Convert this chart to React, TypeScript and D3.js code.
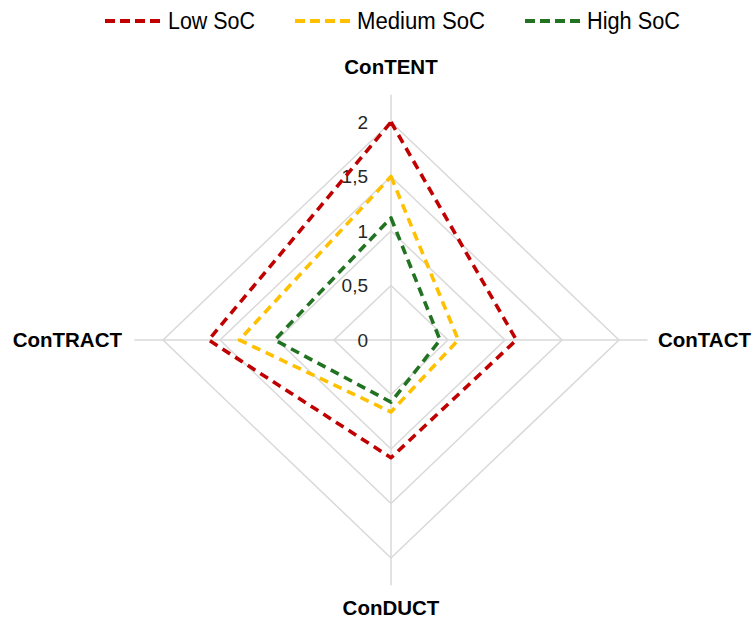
import React from "react";
import * as d3 from "d3";

const categories = ["ConTENT", "ConTACT", "ConDUCT", "ConTRACT"];
const seriesNames = ["Low SoC", "Medium SoC", "High SoC"];
const lowSoC = [2, 1.1, 1.08, 1.6];
const mediumSoC = [1.5, 0.59, 0.66, 1.33];
const highSoC = [1.12, 0.43, 0.57, 1.02];
const tickValues = [0, 0.5, 1, 1.5, 2];
const tickLabels = ["0", "0,5", "1", "1,5", "2"];
const colors = ["#C00000", "#FFC000", "#217321"];

const W = 756;
const H = 619;
const cx = 391;
const cy = 340;

export default function App() {
  const rx = d3.scaleLinear().domain([0, 2]).range([0, 228]);
  const ry = d3.scaleLinear().domain([0, 2]).range([0, 218]);
  const angle = (i: number) => (i * Math.PI) / 2 - Math.PI / 2;
  const pt = (i: number, v: number): [number, number] => [
    cx + Math.cos(angle(i)) * rx(v),
    cy + Math.sin(angle(i)) * ry(v),
  ];
  const line = d3
    .line<[number, number]>()
    .x((d) => d[0])
    .y((d) => d[1])
    .curve(d3.curveLinearClosed);

  const series = [lowSoC, mediumSoC, highSoC];
  const rings = tickValues.filter((t) => t > 0);

  const labelPos = [
    { x: cx, y: 67, anchor: "middle" },
    { x: 658, y: 340, anchor: "start" },
    { x: cx, y: 608, anchor: "middle" },
    { x: 122, y: 340, anchor: "end" },
  ];

  const legendItems = [
    { x1: 105, tx: 168, len: 87 },
    { x1: 295, tx: 357, len: 128 },
    { x1: 525, tx: 587, len: 93 },
  ];

  return (
    <svg
      width={W}
      height={H}
      style={{ position: "absolute", left: 0, top: 0, background: "#fff" }}
    >
      <rect width={W} height={H} fill="#fff" />
      {rings.map((t) => (
        <path
          key={t}
          d={line(categories.map((_, i) => pt(i, t))) || ""}
          fill="none"
          stroke="#d9d9d9"
          strokeWidth={1.5}
        />
      ))}
      {categories.map((c, i) => {
        const [x2, y2] = pt(i, 2.25);
        return (
          <line
            key={c}
            x1={cx}
            y1={cy}
            x2={x2}
            y2={y2}
            stroke="#d9d9d9"
            strokeWidth={1.5}
          />
        );
      })}
      {tickValues.map((t, k) => (
        <text
          key={t}
          x={368}
          y={cy - ry(t)}
          dy="0.35em"
          textAnchor="end"
          fontFamily="Liberation Sans, Arial, sans-serif"
          fontSize={19}
          fill="#262626"
        >
          {tickLabels[k]}
        </text>
      ))}
      {series.map((s, si) => (
        <path
          key={si}
          d={line(s.map((v, i) => pt(i, v))) || ""}
          fill="none"
          stroke={colors[si]}
          strokeWidth={3.6}
          strokeDasharray="9 6"
          strokeLinejoin="round"
        />
      ))}
      {categories.map((c, i) => (
        <text
          key={c}
          x={labelPos[i].x}
          y={labelPos[i].y}
          dy="0.35em"
          textAnchor={labelPos[i].anchor as any}
          fontFamily="Liberation Sans, Arial, sans-serif"
          fontWeight="bold"
          fontSize={20.5}
          fill="#000"
        >
          {c}
        </text>
      ))}
      {seriesNames.map((n, si) => (
        <g key={n}>
          <line
            x1={legendItems[si].x1}
            x2={legendItems[si].x1 + 56}
            y1={21}
            y2={21}
            stroke={colors[si]}
            strokeWidth={4}
            strokeDasharray="10 5"
          />
          <text
            x={legendItems[si].tx}
            y={21}
            dy="0.35em"
            fontFamily="Liberation Sans, Arial, sans-serif"
            fontSize={23}
            textLength={legendItems[si].len}
            lengthAdjust="spacingAndGlyphs"
            fill="#000"
          >
            {n}
          </text>
        </g>
      ))}
    </svg>
  );
}
